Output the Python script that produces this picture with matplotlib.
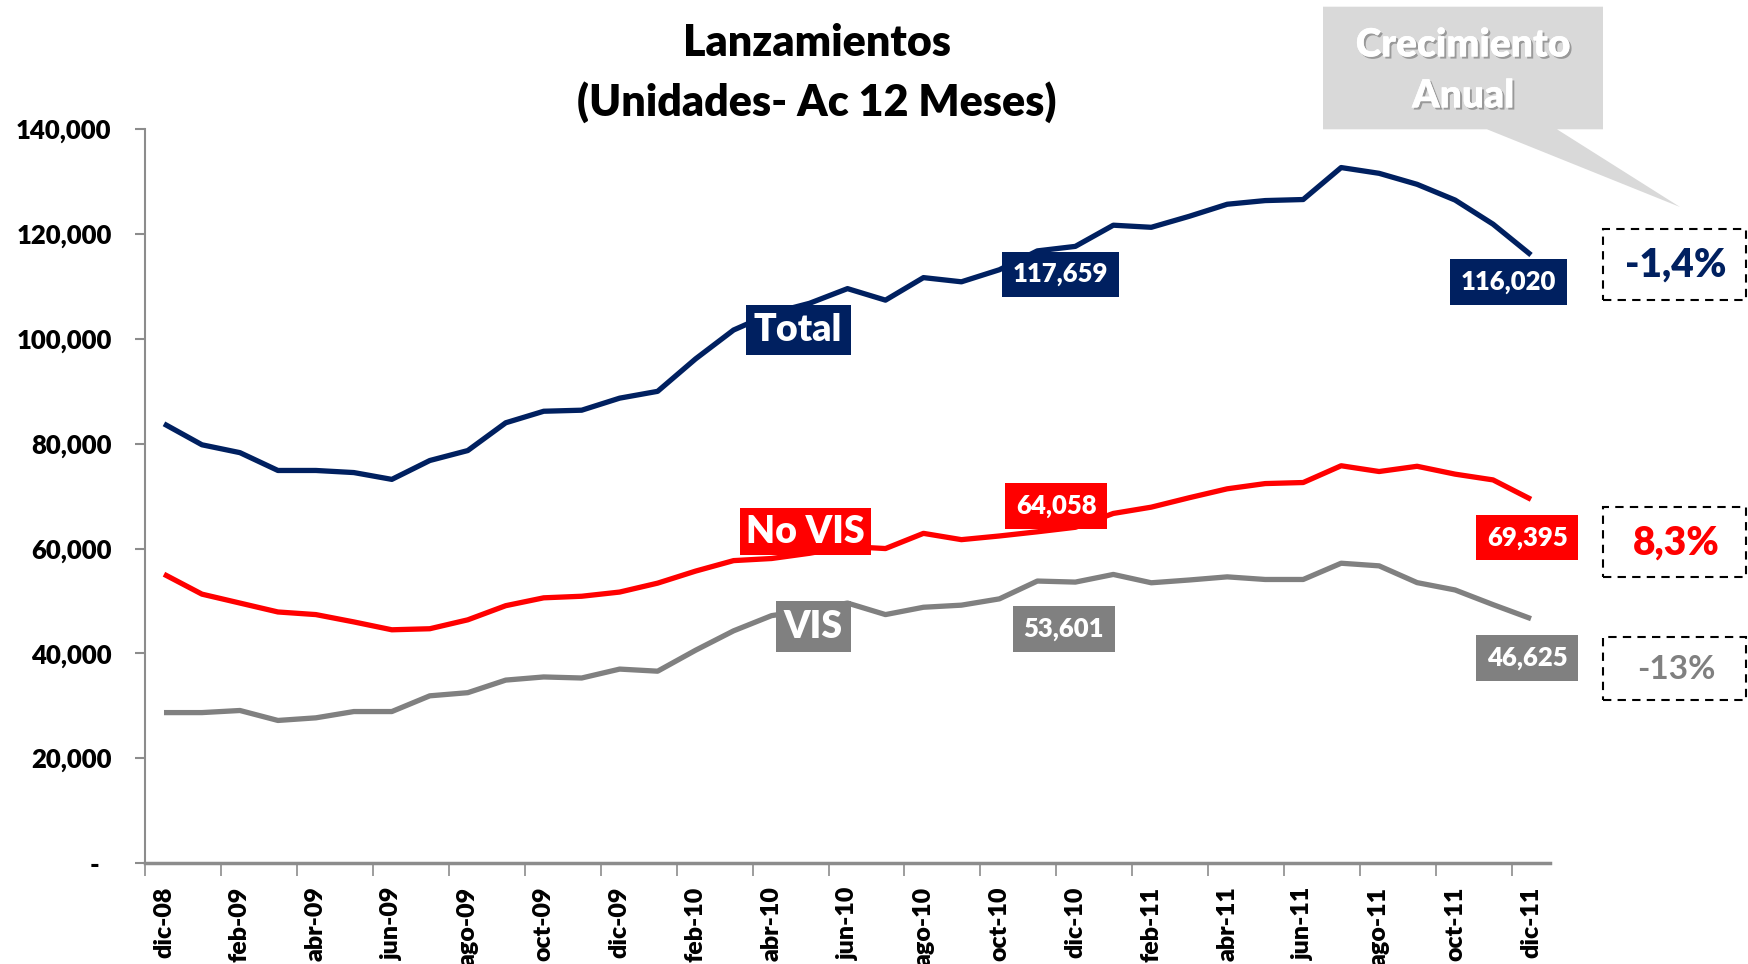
import matplotlib
matplotlib.use("Agg")
import matplotlib.pyplot as plt
from matplotlib.patches import Rectangle, Polygon
from matplotlib.ticker import FixedLocator, FuncFormatter
import matplotlib.patheffects as pe

plt.rcParams['font.family'] = ['Lato', 'DejaVu Sans']

# ---------------- data ----------------
months = ['dic-08', 'ene-09', 'feb-09', 'mar-09', 'abr-09', 'may-09', 'jun-09', 'jul-09',
          'ago-09', 'sep-09', 'oct-09', 'nov-09', 'dic-09', 'ene-10', 'feb-10', 'mar-10',
          'abr-10', 'may-10', 'jun-10', 'jul-10', 'ago-10', 'sep-10', 'oct-10', 'nov-10',
          'dic-10', 'ene-11', 'feb-11', 'mar-11', 'abr-11', 'may-11', 'jun-11', 'jul-11',
          'ago-11', 'sep-11', 'oct-11', 'nov-11', 'dic-11']

total = [83800, 79800, 78300, 74900, 74900, 74500, 73200, 76800, 78700, 84000,
         86200, 86400, 88700, 90000, 96200, 101700, 104900, 106800, 109600, 107400,
         111700, 110900, 113200, 116800, 117659, 121700, 121300, 123400, 125700, 126400,
         126600, 132700, 131600, 129500, 126500, 121900, 116020]

no_vis = [55100, 51300, 49600, 47900, 47400, 46000, 44500, 44700, 46400, 49100,
          50600, 50900, 51700, 53400, 55700, 57700, 58100, 59100, 60400, 60000,
          62900, 61700, 62400, 63200, 64058, 66700, 67900, 69700, 71400, 72400,
          72600, 75800, 74700, 75700, 74200, 73100, 69395]

vis = [28700, 28700, 29100, 27200, 27700, 28900, 28900, 31900, 32500, 34900,
       35500, 35300, 37000, 36600, 40600, 44300, 47200, 48300, 49600, 47400,
       48800, 49200, 50400, 53800, 53601, 55060, 53470, 54000, 54600, 54100,
       54100, 57200, 56700, 53500, 52100, 49300, 46625]

growth = ['-1,4%', '8,3%', '-13%']
series_names = ['Total', 'No VIS', 'VIS']
title = 'Lanzamientos\n(Unidades- Ac 12 Meses)'

NAVY = '#002060'
RED = '#FF0000'
GRAY = '#808080'
colors = [NAVY, RED, GRAY]

W, H = 1748, 964
fig = plt.figure(figsize=(W / 100, H / 100), dpi=100)
ax = fig.add_axes([145 / W, 1 - 863 / H, (1550 - 145) / W, (863 - 129.3) / H])

x = list(range(len(months)))
for ys, c in zip([total, no_vis, vis], colors):
    ax.plot(x, ys, color=c, lw=3.8, solid_joinstyle='round', solid_capstyle='butt', zorder=3)

ax.set_xlim(-0.5, len(months) - 0.5)
ax.set_ylim(0, 140000)

# spines
for s in ['top', 'right']:
    ax.spines[s].set_visible(False)
ax.spines['left'].set_color('#8c8c8c')
ax.spines['left'].set_linewidth(1.5)
ax.spines['bottom'].set_color('#8c8c8c')
ax.spines['bottom'].set_linewidth(2.5)

# y axis
ax.set_yticks(range(0, 140001, 20000))
ax.yaxis.set_major_formatter(FuncFormatter(lambda v, p: '-  ' if v == 0 else f'{v:,.0f}'))
ax.tick_params(axis='y', length=7, width=1.5, color='#8c8c8c', pad=17, labelsize=18.5)
for t in ax.get_yticklabels():
    t.set_fontweight('heavy')

# x axis: labels every 2 months, tick marks between categories
ax.xaxis.set_major_locator(FixedLocator(x[::2]))
ax.set_xticklabels(months[::2], rotation=90, fontsize=18, fontweight='heavy')
ax.xaxis.set_minor_locator(FixedLocator([i - 0.5 for i in x[::2]]))
ax.tick_params(axis='x', which='major', length=0, pad=17)
ax.tick_params(axis='x', which='minor', length=9, width=1.2, color='#8c8c8c')

# title
fig.text(817 / W, 1 - 73 / H, title, ha='center', va='center', fontsize=31,
         fontweight='heavy', linespacing=1.5)

# series name boxes
def boxlabel(xv, yv, txt, fc, fs, pad=0.3):
    ax.text(xv, yv, txt, ha='center', va='center', color='white', fontsize=fs,
            fontweight='heavy', zorder=5,
            bbox=dict(boxstyle=f'square,pad={pad}', fc=fc, ec='none'))

boxlabel(16.7, 101700, series_names[0], NAVY, 27, 0.22)
boxlabel(16.9, 63200, series_names[1], RED, 27, 0.17)
boxlabel(17.1, 45100, series_names[2], GRAY, 27, 0.22)

# value boxes
boxlabel(23.6, 112300, f'{total[24]:,}', NAVY, 18.5, 0.42)
boxlabel(35.4, 110900, f'{total[-1]:,}', NAVY, 18.5, 0.42)
boxlabel(23.5, 68100, f'{no_vis[24]:,}', RED, 18.5, 0.42)
boxlabel(35.9, 62100, f'{no_vis[-1]:,}', RED, 18.5, 0.42)
boxlabel(23.7, 44700, f'{vis[24]:,}', GRAY, 18.5, 0.42)
boxlabel(35.9, 39100, f'{vis[-1]:,}', GRAY, 18.5, 0.42)

# growth boxes (figure pixel coords)
def fpx(px, py):
    return (px / W, 1 - py / H)

boxes = [(228.5, 300), (507, 577), (636.5, 700)]
gsizes = [28, 28, 24]
gweights = ['heavy', 'heavy', 'bold']
for (y0, y1), g, c, fs, fw in zip(boxes, growth, colors, gsizes, gweights):
    x0, x1 = 1603, 1746
    r = Rectangle(fpx(x0, y1), (x1 - x0) / W, (y1 - y0) / H, transform=fig.transFigure,
                  fc='white', ec='black', lw=1.5, ls=(0, (4, 3)))
    fig.add_artist(r)
    cy = (y0 + y1) / 2
    fig.text(*fpx(1676, cy + 1), g, ha='center', va='center', color=c,
             fontsize=fs, fontweight=fw)

# callout
poly_px = [(1323, 6.7), (1603, 6.7), (1603, 129.3), (1557, 129.3), (1680, 207),
           (1487, 129.3), (1323, 129.3)]
callout = Polygon([fpx(px, py) for px, py in poly_px], closed=True,
                  transform=fig.transFigure, fc='#D9D9D9', ec='none')
fig.add_artist(callout)
for txt, py in [('Crecimiento', 45), ('Anual', 96)]:
    t = fig.text(*fpx(1463, py), txt, ha='center', va='center', color='white',
                 fontsize=28, fontweight='heavy')
    t.set_path_effects([pe.withSimplePatchShadow(offset=(1.5, -1.5), shadow_rgbFace='#6f6f6f', alpha=0.6),
                        pe.Normal()])

fig.savefig('out.png', dpi=100)
